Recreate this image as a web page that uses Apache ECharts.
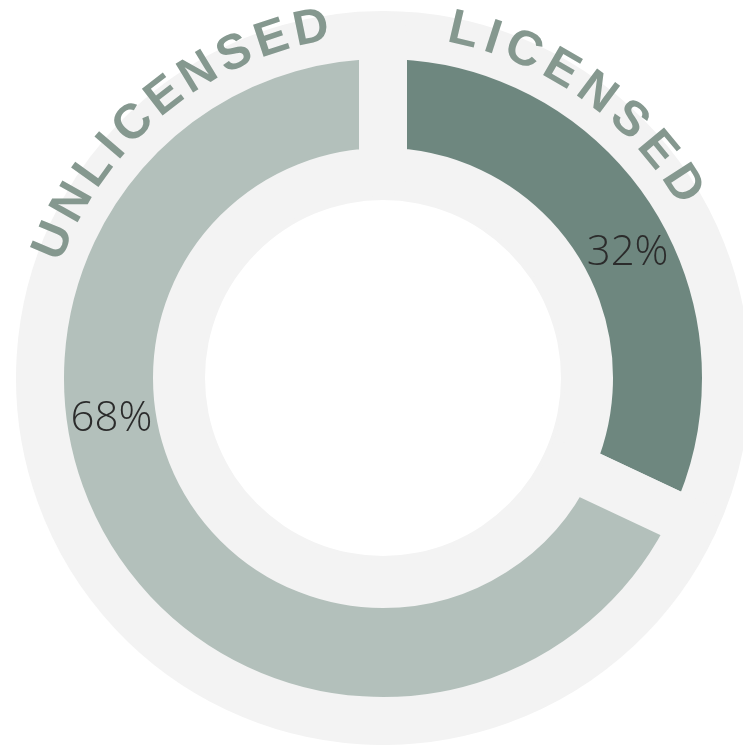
<!DOCTYPE html>
<html>
<head>
<meta charset="utf-8">
<script src="https://cdn.jsdelivr.net/npm/echarts@6/dist/echarts.min.js"></script>
<style>
html,body{margin:0;padding:0;background:#ffffff;}
#chart{width:743px;height:745px;}
</style>
</head>
<body>
<div id="chart"></div>
<script>
// ---- data ----
const categories = ['LICENSED', 'UNLICENSED'];
const values = [32, 68];
const sliceColors = ['#6e877f', '#b3c0bb'];

// ---- layout / style constants ----
const CX = 383, CY = 378;
const RING_BG = '#f3f3f3';
const GAP = 48;
const DONUT_INNER = 230, DONUT_OUTER = 319;
const LABEL_ANGLES = [63, 261.5];          // where the % labels sit (deg clockwise from top)
const TITLE_ANGLES = [35.1, 320.5];        // centre of each curved category title
const TITLE_SPANS = [44, 55.8];            // arc between first and last letter centre (deg)
const TITLE_RADIUS = 356;
const TITLE_SIZE = 49;
const TITLE_FAMILY = '"Liberation Sans", Arial, sans-serif';
const TITLE_COLOR = '#85988f';

const chart = echarts.init(document.getElementById('chart'), null, {renderer: 'canvas'});

// build curved text for category names
const ctx = document.createElement('canvas').getContext('2d');
ctx.font = 'bold ' + TITLE_SIZE + 'px ' + TITLE_FAMILY;
const graphics = [];
categories.forEach(function (name, i) {
  const chars = name.split('');
  const widths = chars.map(function (c) { return ctx.measureText(c).width; });
  let base = 0;
  for (let k = 1; k < chars.length; k++) base += widths[k - 1] / 2 + widths[k] / 2;
  const spanPx = TITLE_SPANS[i] * Math.PI / 180 * TITLE_RADIUS;
  const spacing = (spanPx - base) / (chars.length - 1);
  const centers = [];
  let acc = 0;
  for (let k = 0; k < chars.length; k++) {
    if (k > 0) acc += widths[k - 1] / 2 + spacing + widths[k] / 2;
    centers.push(acc);
  }
  const total = centers[centers.length - 1];
  chars.forEach(function (c, k) {
    const s = centers[k] - total / 2;
    const theta = TITLE_ANGLES[i] * Math.PI / 180 + s / TITLE_RADIUS;
    graphics.push({
      type: 'text',
      x: CX + TITLE_RADIUS * Math.sin(theta),
      y: CY - TITLE_RADIUS * Math.cos(theta),
      rotation: -theta,
      silent: true,
      z: 100,
      style: {
        text: c,
        fontSize: TITLE_SIZE,
        fontWeight: 'bold',
        fontFamily: TITLE_FAMILY,
        fill: TITLE_COLOR,
        align: 'center',
        verticalAlign: 'middle'
      }
    });
  });
});

const option = {
  animation: false,
  backgroundColor: '#ffffff',
  graphic: graphics,
  series: [
    {
      type: 'pie',
      silent: true,
      center: [CX, CY],
      radius: [178, 366],
      data: [{value: 1, name: 'bg'}],
      itemStyle: {color: RING_BG},
      label: {show: false},
      labelLine: {show: false},
      emphasis: {disabled: true},
      z: 1
    },
    {
      type: 'pie',
      center: [CX, CY],
      radius: [DONUT_INNER - GAP / 2, DONUT_OUTER + GAP / 2],
      startAngle: 90,
      clockwise: true,
      z: 2,
      data: categories.map(function (c, i) {
        return {name: c, value: values[i], itemStyle: {color: sliceColors[i]}};
      }),
      itemStyle: {borderColor: RING_BG, borderWidth: GAP, borderJoin: 'round'},
      emphasis: {disabled: true},
      label: {
        show: true,
        position: 'inside',
        formatter: '{d}%',
        fontFamily: '"Open Sans", sans-serif',
        fontWeight: 300,
        fontSize: 42,
        color: '#2b2b2b'
      },
      labelLine: {show: false},
      labelLayout: function (p) {
        const a = LABEL_ANGLES[p.dataIndex] * Math.PI / 180;
        const r = (DONUT_INNER + DONUT_OUTER) / 2;
        return {x: CX + r * Math.sin(a), y: CY - r * Math.cos(a), align: 'center', verticalAlign: 'middle'};
      }
    }
  ]
};
chart.setOption(option);
</script>
</body>
</html>
